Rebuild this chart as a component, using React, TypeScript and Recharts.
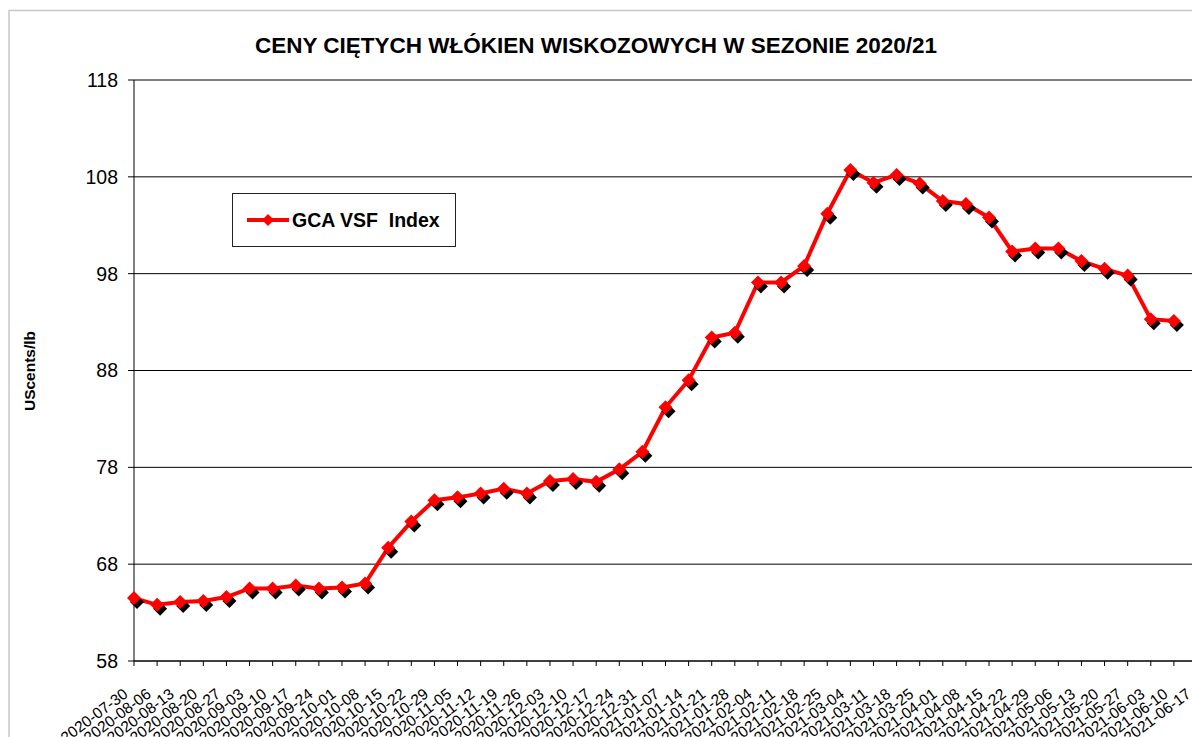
import React from 'react';
import { LineChart, Line, XAxis, YAxis, CartesianGrid, Legend } from 'recharts';

const weeks = [
  '2020-07-30', '2020-08-06', '2020-08-13', '2020-08-20', '2020-08-27',
  '2020-09-03', '2020-09-10', '2020-09-17', '2020-09-24', '2020-10-01',
  '2020-10-08', '2020-10-15', '2020-10-22', '2020-10-29', '2020-11-05',
  '2020-11-12', '2020-11-19', '2020-11-26', '2020-12-03', '2020-12-10',
  '2020-12-17', '2020-12-24', '2020-12-31', '2021-01-07', '2021-01-14',
  '2021-01-21', '2021-01-28', '2021-02-04', '2021-02-11', '2021-02-18',
  '2021-02-25', '2021-03-04', '2021-03-11', '2021-03-18', '2021-03-25',
  '2021-04-01', '2021-04-08', '2021-04-15', '2021-04-22', '2021-04-29',
  '2021-05-06', '2021-05-13', '2021-05-20', '2021-05-27', '2021-06-03',
  '2021-06-10', '2021-06-17',
];

// GCA VSF Index, UScents/lb (no value for the last week)
const gcaVsfIndex = [
  64.5, 63.8, 64.1, 64.2, 64.6, 65.5, 65.5, 65.8, 65.5, 65.6,
  66.0, 69.7, 72.4, 74.6, 74.9, 75.3, 75.8, 75.3, 76.6, 76.8,
  76.5, 77.8, 79.6, 84.2, 87.0, 91.4, 91.9, 97.1, 97.1, 98.8,
  104.2, 108.7, 107.4, 108.2, 107.3, 105.5, 105.2, 103.8, 100.3, 100.6,
  100.6, 99.3, 98.5, 97.8, 93.3, 93.1,
];

const yTicks = [58, 68, 78, 88, 98, 108, 118];

const title = 'CENY CIĘTYCH WŁÓKIEN WISKOZOWYCH W SEZONIE 2020/21';
const yLabel = 'UScents/lb';
const seriesName = 'GCA VSF  Index';

const data = weeks.map((week, i) => ({
  week,
  gca: i < gcaVsfIndex.length ? gcaVsfIndex[i] : null,
}));

const FONT = '"Liberation Sans", Arial, Helvetica, sans-serif';

const Diamond = (props: any) => {
  const { cx, cy } = props;
  if (cx == null || cy == null || props.value == null) return null;
  const r = 7;
  const pts = (x: number, y: number) =>
    `${x},${y - r} ${x + r},${y} ${x},${y + r} ${x - r},${y}`;
  return (
    <g>
      <polygon points={pts(cx + 3, cy + 4)} fill="#000" />
      <polygon points={pts(cx, cy)} fill="#ff0000" />
    </g>
  );
};

const DateTick = (props: any) => {
  const { x, y, payload } = props;
  const ax = x - 5;
  const ay = y + 28;
  return (
    <text
      x={ax}
      y={ay}
      transform={`rotate(-37, ${ax}, ${ay})`}
      textAnchor="end"
      fontSize={15.5}
      fontFamily={FONT}
      fill="#000"
    >
      {payload.value}
    </text>
  );
};

const LegendBox = () => (
  <div
    style={{
      width: 222,
      height: 52,
      border: '1px solid #222',
      background: '#fff',
      display: 'flex',
      alignItems: 'center',
      fontFamily: FONT,
    }}
  >
    <svg width={58} height={20} style={{ marginLeft: 12 }}>
      <line x1={2} y1={10} x2={44} y2={10} stroke="#ff0000" strokeWidth={4} />
      <polygon points="23,4 29,10 23,16 17,10" fill="#ff0000" />
    </svg>
    <span
      style={{
        marginLeft: -11,
        fontSize: 19.5,
        fontWeight: 'bold',
        whiteSpace: 'pre',
        color: '#000',
      }}
    >
      {seriesName}
    </span>
  </div>
);

export default function App() {
  return (
    <div
      style={{
        position: 'fixed',
        left: 0,
        top: 0,
        width: 1192,
        height: 737,
        overflow: 'hidden',
        background: '#fff',
      }}
    >
      <LineChart
        width={1210}
        height={737}
        data={data}
        margin={{ top: 80, right: 13, bottom: 0, left: 8 }}
      >
        <CartesianGrid vertical={false} stroke="#000" strokeWidth={1} />
        <XAxis
          dataKey="week"
          interval={0}
          height={76}
          tickSize={5}
          tickMargin={2}
          tick={<DateTick />}
          axisLine={{ stroke: '#000' }}
          tickLine={{ stroke: '#000' }}
        />
        <YAxis
          domain={[58, 118]}
          ticks={yTicks}
          interval={0}
          width={126}
          tickSize={6}
          tickMargin={10}
          allowDataOverflow
          axisLine={{ stroke: '#000' }}
          tickLine={{ stroke: '#000' }}
          tick={{ fontSize: 19.5, fill: '#000', fontFamily: FONT }}
        />
        <Legend
          verticalAlign="middle"
          align="center"
          layout="horizontal"
          wrapperStyle={{ left: 232, top: 193, width: 224, height: 54 }}
          content={() => <LegendBox />}
        />
        <Line
          type="linear"
          dataKey="gca"
          name={seriesName}
          stroke="#ff0000"
          strokeWidth={4}
          dot={<Diamond />}
          activeDot={false}
          isAnimationActive={false}
        />
      </LineChart>
      <svg
        width={1192}
        height={737}
        style={{ position: 'absolute', left: 0, top: 0, pointerEvents: 'none' }}
      >
        <rect x={9} y={10.5} width={1300} height={1000} fill="none" stroke="#c8c8c8" strokeWidth={1.5} />
        <text
          x={596}
          y={53}
          textAnchor="middle"
          fontSize={22.5}
          fontWeight="bold"
          fontFamily={FONT}
          fill="#000"
        >
          {title}
        </text>
        <text
          x={35}
          y={371}
          transform="rotate(-90, 35, 371)"
          textAnchor="middle"
          fontSize={15.5}
          fontWeight="bold"
          fontFamily={FONT}
          fill="#000"
        >
          {yLabel}
        </text>
      </svg>
    </div>
  );
}
